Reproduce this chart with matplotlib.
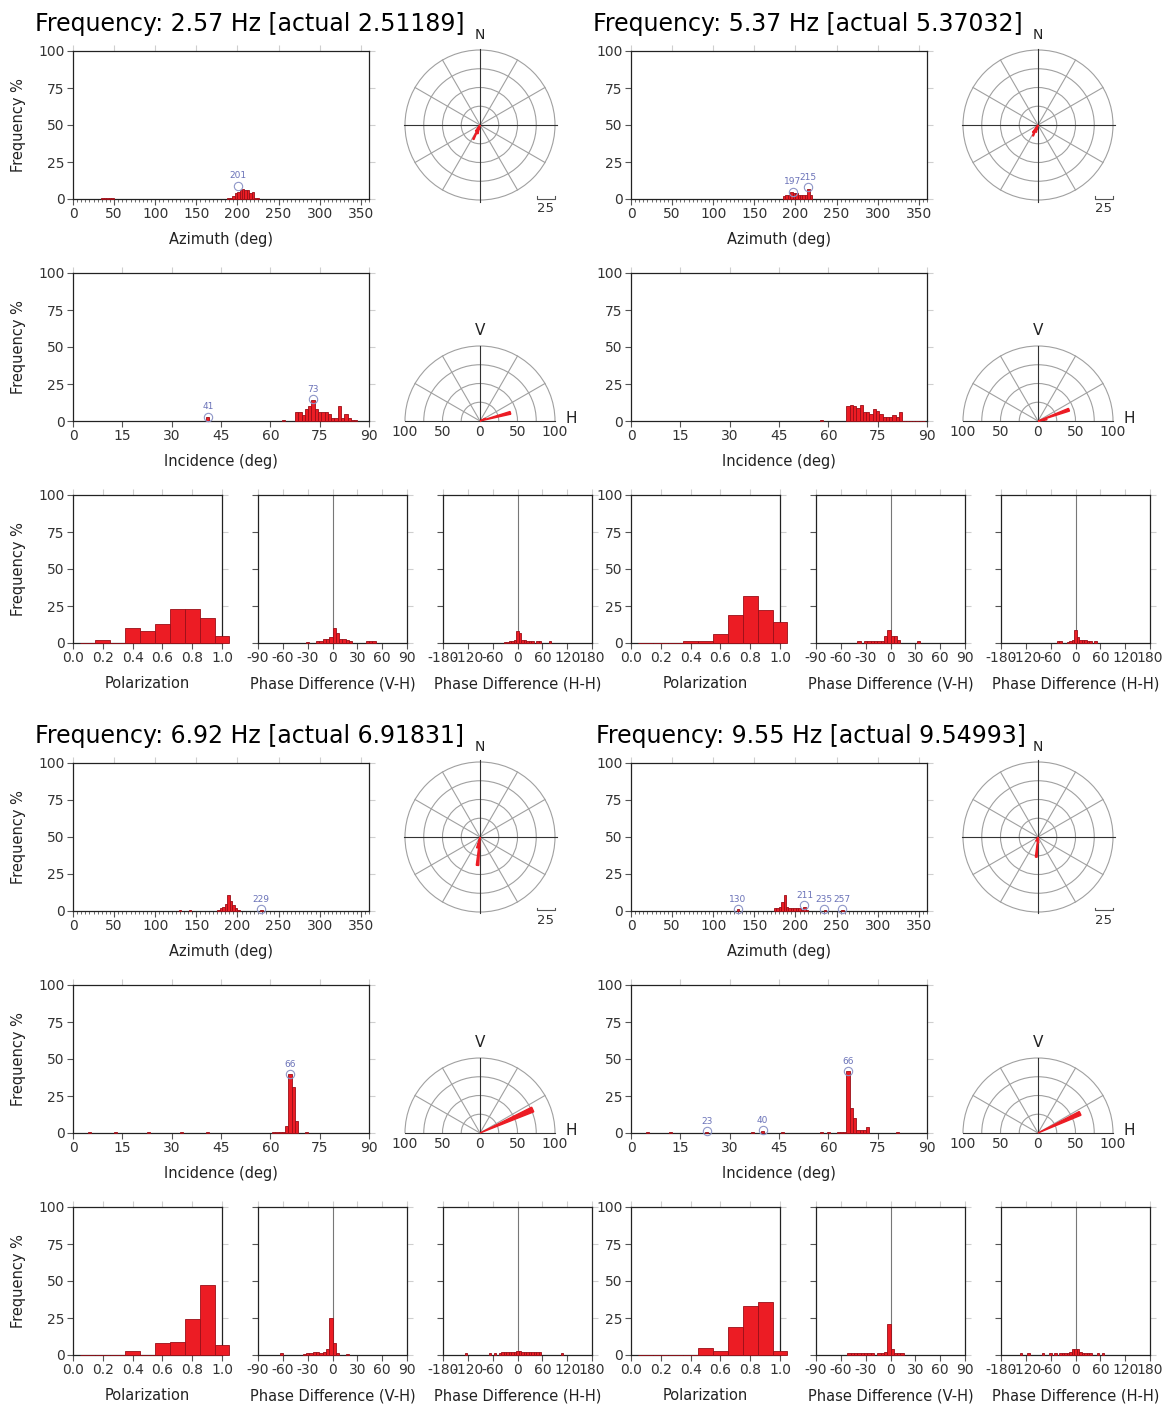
import numpy as np
import matplotlib
matplotlib.use('Agg')
import matplotlib.pyplot as plt
from matplotlib.patches import Wedge, Circle, Arc
from matplotlib.ticker import MultipleLocator

plt.rcParams['font.family'] = 'DejaVu Sans'
plt.rcParams['axes.unicode_minus'] = False

TITLES = ['Frequency: 2.57 Hz [actual 2.51189]', 'Frequency: 5.37 Hz [actual 5.37032]',
          'Frequency: 6.92 Hz [actual 6.91831]', 'Frequency: 9.55 Hz [actual 9.54993]']

# azimuth histograms (bin centre deg, frequency %), 3 deg bins
AZ1_X = [36, 39, 42, 45, 48, 189, 192, 195, 198, 201, 204, 207, 210, 213, 216, 219, 222, 225]
AZ1_Y = [0.4, 0.4, 0.4, 0.4, 0.4, 0.5, 1, 2, 4, 5, 6, 7, 6, 6, 4, 5, 1, 0.5]
AZ2_X = [186, 189, 192, 195, 198, 201, 204, 207, 210, 213, 216, 219]
AZ2_Y = [2, 3, 3, 5, 4, 4, 3, 3, 3, 3, 7, 3]
AZ3_X = [130, 142, 177, 180, 183, 186, 189, 192, 195, 198, 201, 229]
AZ3_Y = [0.7, 0.7, 1, 2, 3, 5, 11, 7, 4, 2, 1, 0.7]
AZ4_X = [130, 175, 178, 181, 184, 187, 190, 193, 196, 199, 202, 205, 208, 211, 214, 236, 257]
AZ4_Y = [1.5, 2, 2, 3, 6, 10.5, 3, 2, 2, 2, 2, 2, 1, 2.5, 1, 1, 1]
AZ_PEAKS = [[(201, 9)], [(197, 5), (215, 8)], [(229, 1.5)],
            [(130, 1.5), (211, 4), (235, 1.2), (257, 1.2)]]

# incidence histograms, 1 deg bins
INC1_X = [41, 64, 68, 69, 70, 71, 72, 73, 74, 75, 76, 77, 78, 79, 80, 81, 82, 83, 84, 85, 86]
INC1_Y = [3, 0.5, 6, 6, 4, 8, 10, 14, 8, 6, 6, 6, 5, 2, 2, 10, 2, 5, 2, 1, 1]
INC2_X = [58, 66, 67, 68, 69, 70, 71, 72, 73, 74, 75, 76, 77, 78, 79, 80, 81, 82, 83, 84, 85, 86, 87, 88, 89]
INC2_Y = [0.5, 10, 11, 10, 9, 11, 6, 6, 5, 8, 7, 5, 3, 3, 3, 4, 3, 6, 0.3, 0.3, 0.3, 0.3, 0.3, 0.3, 0.3]
INC3_X = [5, 13, 23, 33, 41, 61, 62, 63, 64, 65, 66, 67, 68, 71]
INC3_Y = [0.4, 0.4, 0.4, 0.4, 0.4, 0.4, 0.4, 0.5, 1, 5, 40, 31, 8, 0.4]
INC4_X = [5, 12, 23, 37, 40, 46, 58, 60, 63, 64, 65, 66, 67, 68, 69, 70, 71, 72, 81]
INC4_Y = [1, 1, 1, 1, 1.5, 1, 1, 1, 0.5, 1, 1, 42, 17, 10, 2, 2, 2, 4, 1]
INC_PEAKS = [[(41, 3), (73, 15)], [], [(66, 40)], [(23, 1.5), (40, 2), (66, 42)]]

# polarization histograms, 0.1 bins
POL_X = [0.1, 0.2, 0.3, 0.4, 0.5, 0.6, 0.7, 0.8, 0.9, 1.0]
POL1_Y = [0, 2, 0, 10, 8, 13, 23, 23, 17, 5]
POL2_Y = [0, 0, 0, 1.5, 1.5, 6, 19, 32, 22, 14]
POL3_Y = [0, 0, 0, 3, 0, 8, 9, 24, 47, 7]
POL4_Y = [0, 0, 0, 0, 5, 3, 19, 33, 36, 3]

# phase difference V-H, 4 deg bins
VH1_X = [-30, -18, -14, -10, -6, -2, 2, 6, 10, 14, 18, 22, 42, 46, 50]
VH1_Y = [0.5, 1.5, 1.5, 3, 3, 4, 10, 7, 3, 3, 2, 1.5, 1.5, 1.5, 1.5]
VH2_X = [-38, -30, -26, -22, -18, -14, -10, -6, -2, 2, 6, 10, 34]
VH2_Y = [1.5, 1.5, 1.5, 1.5, 1.5, 1.5, 1.5, 5, 9, 5, 5, 2, 1.5]
VH3_X = [-62, -34, -30, -26, -22, -18, -14, -10, -6, -2, 2, 6, 18]
VH3_Y = [1.5, 1, 1.5, 1.5, 2, 2, 1.5, 2, 4, 25, 8, 1.5, 1]
VH4_X = [-50, -46, -42, -38, -34, -30, -26, -22, -14, -10, -6, -2, 2, 6, 10, 14]
VH4_Y = [1.5, 1.5, 1.5, 1.5, 1.5, 1.5, 1.5, 1.5, 1.5, 1.5, 2, 21, 4, 1.5, 1.5, 1.5]

# phase difference H-H, 6 deg bins
HH1_X = [-30, -24, -18, -12, -6, 0, 6, 12, 18, 24, 30, 36, 48, 54, 78]
HH1_Y = [1, 1, 1.5, 1.5, 2, 8, 7, 2, 2, 1.5, 1.5, 1.5, 1.5, 1.5, 1.5]
HH2_X = [-42, -36, -18, -12, -6, 0, 6, 12, 18, 24, 30, 36, 48]
HH2_Y = [1.5, 1.5, 1, 1.5, 2, 9, 4, 2, 2, 2, 1.5, 1.5, 1.5]
HH3_X = [-125, -66, -54, -42, -36, -30, -24, -18, -12, -6, 0, 6, 12, 18, 24, 30, 36, 42, 48, 54, 108]
HH3_Y = [1.5, 1.5, 1.5, 1.5, 2, 2, 2, 2, 2, 2, 2.5, 2.5, 2, 2, 2, 2, 2, 2, 2, 2, 1.5]
HH4_X = [-132, -114, -78, -60, -48, -36, -30, -24, -18, -12, -6, 0, 6, 12, 18, 24, 30, 36, 54, 66]
HH4_Y = [1.5, 1.5, 1.5, 1.5, 1.5, 1.5, 1.5, 1.5, 1.5, 2, 4, 4, 4, 2, 1.5, 1.5, 1.5, 1.5, 1.5, 1.5]

# rose diagrams (direction deg, length %)
ROSE_AZ = [[195, 205, 215], [195, 205, 215], [185, 195], [185, 175, 205]]
ROSE_AZ_R = [[12, 21, 10], [10, 16, 12], [38, 15], [27, 8, 6]]
ROSE_INC = [[75, 65], [70, 80], [66], [65]]
ROSE_INC_R = [[42, 8], [44, 12], [77], [62]]

AZ_X = [AZ1_X, AZ2_X, AZ3_X, AZ4_X]
AZ_Y = [AZ1_Y, AZ2_Y, AZ3_Y, AZ4_Y]
INC_X = [INC1_X, INC2_X, INC3_X, INC4_X]
INC_Y = [INC1_Y, INC2_Y, INC3_Y, INC4_Y]
POL_Y = [POL1_Y, POL2_Y, POL3_Y, POL4_Y]
VH_X = [VH1_X, VH2_X, VH3_X, VH4_X]
VH_Y = [VH1_Y, VH2_Y, VH3_Y, VH4_Y]
HH_X = [HH1_X, HH2_X, HH3_X, HH4_X]
HH_Y = [HH1_Y, HH2_Y, HH3_Y, HH4_Y]

RED = '#ec1c24'
DARK = '#9a0f18'
GRID = '#a0a0a0'

W, H = 1162, 1405
fig = plt.figure(figsize=(W / 100, H / 100), dpi=100)


def px_axes(x0, y0, x1, y1):
    return fig.add_axes([x0 / W, 1 - y1 / H, (x1 - x0) / W, (y1 - y0) / H])


def hist_axes(ax, xlim, xticks, xlabels, xlabel, ylab_x=None):
    ax.set_xlim(xlim)
    ax.set_ylim(0, 100)
    ax.set_xticks(xticks)
    ax.set_xticklabels(xlabels)
    ax.set_yticks([0, 25, 50, 75, 100])
    ax.tick_params(direction='out', length=4, width=0.8, color='#555', labelcolor='#333',
                   labelsize=10, pad=2, top=True, right=True)
    for t in ax.xaxis.get_major_ticks() + ax.yaxis.get_major_ticks():
        t.tick2line.set_markeredgecolor('#cfcfcf')
    for s in ax.spines.values():
        s.set_color('#222')
        s.set_linewidth(0.9)
    ax.set_xlabel(xlabel, fontsize=10.5, color='#222', labelpad=8)
    if ylab_x is not None:
        ax.set_ylabel('Frequency %', fontsize=10.5, color='#222')
        ax.yaxis.set_label_coords(ylab_x, 0.5)


def bars(ax, x, y, w):
    ax.bar(x, y, width=w, color=RED, edgecolor=DARK, linewidth=0.6, zorder=3, clip_on=False)


def peaks(ax, pk):
    for px, py in pk:
        ax.plot(px, py, 'o', mfc='none', mec='#8e96c8', ms=6, mew=0.8, zorder=4, clip_on=False)
        ax.text(px, py + 3.5, str(px), fontsize=6.5, color='#6a72b8', ha='center', va='bottom')


def compass(ax, az, r):
    ax.set_xlim(-120, 120)
    ax.set_ylim(-120, 120)
    ax.axis('off')
    for rr in (25, 50, 75, 100):
        ax.add_patch(Circle((0, 0), rr, fill=False, ec=GRID, lw=0.8))
    for a in range(0, 360, 30):
        if a % 90:
            t = np.radians(a)
            ax.plot([0, 100 * np.sin(t)], [0, 100 * np.cos(t)], color=GRID, lw=0.8)
    ax.plot([-102, 102], [0, 0], color='#333', lw=0.8)
    ax.plot([0, 0], [-102, 102], color='#333', lw=0.8)
    for a, rr in zip(az, r):
        ax.add_patch(Wedge((0, 0), rr, 90 - a - 2.5, 90 - a + 2.5, color=RED, zorder=3))
    ax.text(0, 120, 'N', fontsize=10, ha='center', va='center', color='#222')
    ax.plot([76, 76, 100, 100], [-95, -98, -98, -95], color='#555', lw=0.8)
    ax.text(88, -112, '25', fontsize=9.5, ha='center', va='center', color='#333')


def halfpolar(ax, inc, r):
    ax.set_xlim(-120, 120)
    ax.set_ylim(-40, 120)
    ax.axis('off')
    for rr in (25, 50, 75, 100):
        ax.add_patch(Arc((0, 0), 2 * rr, 2 * rr, theta1=0, theta2=180, ec=GRID, lw=0.8))
    for a in (30, 60, 120, 150):
        t = np.radians(a)
        ax.plot([0, 100 * np.cos(t)], [0, 100 * np.sin(t)], color=GRID, lw=0.8)
    ax.plot([-100, 100], [0, 0], color='#333', lw=0.8)
    ax.plot([0, 0], [0, 100], color='#333', lw=0.8)
    for a, rr in zip(inc, r):
        ax.add_patch(Wedge((0, 0), rr, 90 - a - 2.5, 90 - a + 2.5, color=RED, zorder=3))
    for v, s in zip([-100, -50, 0, 50, 100], ['100', '50', '0', '50', '100']):
        ax.text(v, -15, s, fontsize=10, ha='center', va='center', color='#333')
    ax.text(0, 121, 'V', fontsize=11, ha='center', va='center', color='#222')
    ax.text(122, 3, 'H', fontsize=11, ha='center', va='center', color='#222')


COL_DX = [0, 558]
BLOCK_DY = [0, 712]
TITLE_X = [35, 593, 35, 596]

for k in range(4):
    dx = COL_DX[k % 2]
    dy = BLOCK_DY[k // 2]
    left = (k % 2 == 0)
    fig.text(TITLE_X[k] / W, 1 - (24 + dy) / H, TITLES[k], fontsize=17, ha='left', va='center')

    # azimuth
    ax = px_axes(73 + dx, 51 + dy, 369 + dx, 199 + dy)
    hist_axes(ax, (0, 360), range(0, 360, 50), [str(v) for v in range(0, 360, 50)],
              'Azimuth (deg)', (26 - 73) / 296 if left else None)
    ax.xaxis.set_minor_locator(MultipleLocator(5))
    ax.tick_params(which='minor', direction='out', length=2, width=0.6, color='#555', top=False)
    bars(ax, AZ_X[k], AZ_Y[k], 3)
    peaks(ax, AZ_PEAKS[k])

    pax = px_axes(390 + dx, 35 + dy, 570 + dx, 215 + dy)
    compass(pax, ROSE_AZ[k], ROSE_AZ_R[k])

    # incidence
    ax = px_axes(73 + dx, 273 + dy, 369 + dx, 421 + dy)
    hist_axes(ax, (0, 90), range(0, 91, 15), [str(v) for v in range(0, 91, 15)],
              'Incidence (deg)', (26 - 73) / 296 if left else None)
    bars(ax, INC_X[k], INC_Y[k], 1)
    peaks(ax, INC_PEAKS[k])

    hax = px_axes(390 + dx, 331 + dy, 570 + dx, 451 + dy)
    halfpolar(hax, ROSE_INC[k], ROSE_INC_R[k])

    # polarization and phase differences
    ax = px_axes(73 + dx, 495 + dy, 222 + dx, 643 + dy)
    hist_axes(ax, (0, 1), np.arange(0, 1.01, 0.2), ['0.0', '0.2', '0.4', '0.6', '0.8', '1.0'],
              'Polarization', (26 - 73) / 149 if left else None)
    bars(ax, POL_X, POL_Y[k], 0.1)

    ax = px_axes(258 + dx, 495 + dy, 407 + dx, 643 + dy)
    hist_axes(ax, (-90, 90), range(-90, 91, 30), [str(v) for v in range(-90, 91, 30)],
              'Phase Difference (V-H)')
    ax.set_yticklabels([])
    ax.axvline(0, color='#777', lw=0.8, zorder=2)
    bars(ax, VH_X[k], VH_Y[k], 4)

    ax = px_axes(443 + dx, 495 + dy, 592 + dx, 643 + dy)
    hist_axes(ax, (-180, 180), range(-180, 181, 60), [str(v) for v in range(-180, 181, 60)],
              'Phase Difference (H-H)')
    ax.set_yticklabels([])
    ax.axvline(0, color='#777', lw=0.8, zorder=2)
    bars(ax, HH_X[k], HH_Y[k], 6)

fig.savefig('out.png', dpi=100, facecolor='white')
